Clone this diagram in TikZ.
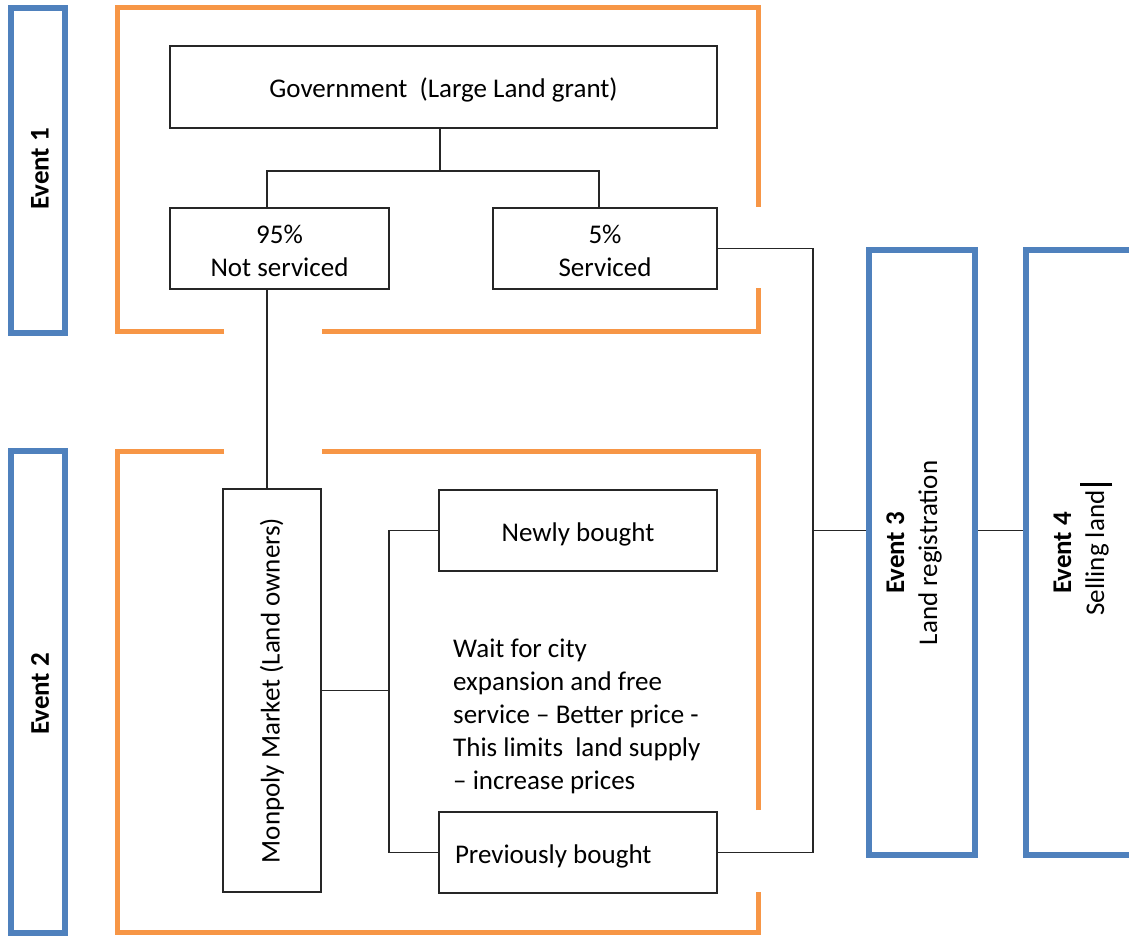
\documentclass[tikz,border=0pt]{standalone}
\usepackage{fontspec}
\setmainfont{Carlito}
\definecolor{evblue}{HTML}{4F81BD}
\definecolor{evorange}{HTML}{F79646}
\begin{document}
\begin{tikzpicture}[x=1pt,y=-1pt,
  font=\fontsize{27}{33}\selectfont,
  box/.style={draw=black!85, line width=2pt, inner sep=0pt, align=center},
  oneline/.style={text height=26pt, text depth=5pt},
  evbox/.style={draw=evblue, line width=6pt, inner sep=0pt},
  bracket/.style={draw=evorange, line width=5pt},
  conn/.style={draw=black!85, line width=1.5pt},
  evlabel/.style={rotate=90, inner sep=0pt, align=center}]
\clip (0,0) rectangle (1129,936);
\fill[white] (0,0) rectangle (1129,936);

% event boxes
\node[evbox, minimum width=54pt, minimum height=325pt] (ev1) at (38,170.5) {};
\node[evbox, minimum width=54pt, minimum height=482pt] (ev2) at (38,692) {};
\node[evbox, minimum width=106pt, minimum height=605pt] (ev3) at (922,552.5) {};
\node[evbox, minimum width=114pt, minimum height=605pt] (ev4) at (1083,552.5) {};
\node[evlabel, font=\fontsize{27}{33}\selectfont\bfseries] (ev1t) at (40,169) {Event 1};
\node[evlabel, font=\fontsize{27}{33}\selectfont\bfseries] (ev2t) at (40,694) {Event 2};
\node[evlabel] (ev3t) at (914,553) {\textbf{Event 3}\\Land registration};
\node[evlabel] (ev4t) at (1083,553) {\textbf{Event 4}\\Selling land\rlap{\hspace{5pt}\rule[-0.3em]{3pt}{1.2em}}};

% orange brackets
\draw[bracket] (224,331) -- (117.5,331) -- (117.5,8) -- (758.5,8) -- (758.5,207);
\draw[bracket] (758.5,288) -- (758.5,331) -- (322,331);
\draw[bracket] (224,451) -- (117.5,451) -- (117.5,932) -- (758.5,932) -- (758.5,892);
\draw[bracket] (758.5,810) -- (758.5,451) -- (322,451);

% boxes
\node[box, oneline, minimum width=547pt, minimum height=82pt] (gov) at (443.5,87) {Government\ \ (Large Land grant)};
\node[box, minimum width=219pt, minimum height=81pt] (n95) at (279.5,248.5) {\rule{0pt}{24pt}95\%\\Not serviced};
\node[box, minimum width=224pt, minimum height=81pt] (n5) at (605,248.5) {\rule{0pt}{24pt}5\%\\Serviced};
\node[box, rotate=90, minimum width=403pt, minimum height=98pt] (mono) at (272,690.5) {Monpoly Market (Land owners)};
\node[box, oneline, minimum width=278pt, minimum height=81pt] (newly) at (578,530.5) {Newly bought};
\node[box, oneline, minimum width=278pt, minimum height=81pt, inner xsep=16pt] (prev) at (578,852.5) {\makebox[246pt][l]{Previously bought}};
\node[anchor=north west, inner sep=0pt, align=left] (wait) at (453,639) {Wait for city\\expansion and free\\service -- Better price -\\This limits\ \ land supply\\-- increase prices};

% connectors
\draw[conn] ([xshift=-3.5pt]gov.south) -- ++(0,42) coordinate (j1);
\draw[conn] ([xshift=-12.5pt]n95.north) |- (j1) -| ([xshift=-6pt]n5.north);
\draw[conn] ([xshift=-12.5pt]n95.south) -- ([xshift=-12.5pt]n95.south |- mono.east);
\draw[conn] (mono.south) -- ++(67,0) coordinate (j2);
\draw[conn] (newly.west) -| (j2) |- (prev.west);
\coordinate (j3) at (813,530.5);
\draw[conn] (n5.east) -| (j3) |- (prev.east);
\draw[conn] (j3) -- (j3 -| ev3.west);
\draw[conn] (ev3.east |- j3) -- (ev4.west |- j3);
\end{tikzpicture}
\end{document}
